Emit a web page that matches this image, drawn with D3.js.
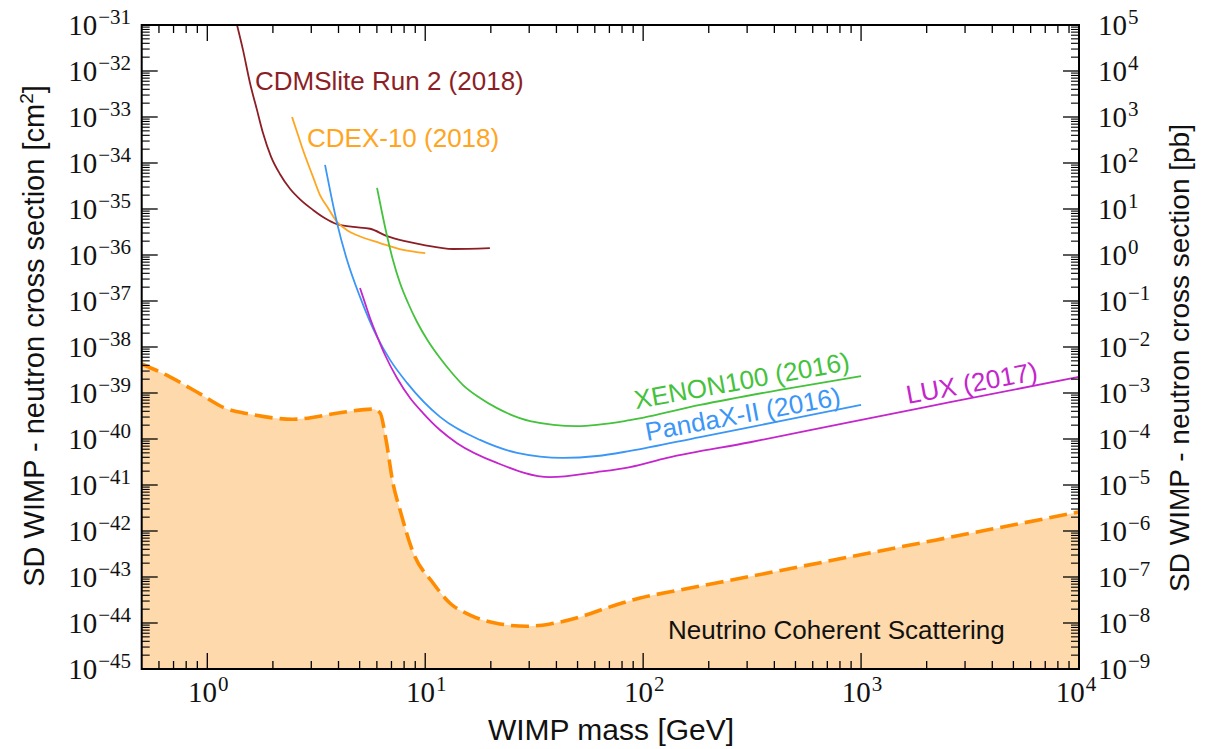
<!DOCTYPE html>
<html>
<head>
<meta charset="utf-8">
<script src="https://cdn.jsdelivr.net/npm/d3@7"></script>
<style>
  html, body { margin: 0; padding: 0; background: #fff; }
  svg { display: block; }
</style>
</head>
<body>
<svg id="chart" width="1216" height="749"></svg>
<script>
// ---------------- DATA (WIMP mass in GeV, cross section in cm^2) ----------------
const neutrinoMass = [0.5, 0.674, 0.926, 1.206, 1.57, 2.47, 4.06, 5.70, 6.20, 6.61, 7.11, 7.66, 8.79, 10.86, 13.0, 16.06, 22.0, 29.3, 37.4, 51.3, 68.3, 96.8, 147.6, 225.3, 525, 1222, 2846, 10000];
const neutrinoSigma = [4.27e-39, 2.24e-39, 9.55e-40, 4.68e-40, 3.47e-40, 2.69e-40, 3.72e-40, 4.47e-40, 3.72e-40, 9.55e-41, 1.10e-41, 2.88e-42, 3.47e-43, 7.41e-44, 2.69e-44, 1.48e-44, 9.55e-45, 8.51e-45, 9.55e-45, 1.35e-44, 2.14e-44, 3.49e-44, 5.21e-44, 7.67e-44, 1.68e-43, 3.69e-43, 8.07e-43, 2.59e-42];

const cdmsMass = [1.369, 1.458, 1.570, 1.691, 1.801, 1.960, 2.157, 2.396, 2.664, 3.055, 3.469, 3.937, 4.664, 5.58, 6.68, 8.08, 9.77, 13.4, 19.8];
const cdmsSigma = [1e-31, 2.88e-32, 5.5e-33, 1.41e-33, 4.47e-34, 1.38e-34, 5.7e-35, 2.75e-35, 1.62e-35, 9.55e-36, 6.3e-36, 4.68e-36, 4.07e-36, 3.72e-36, 2.57e-36, 2.0e-36, 1.66e-36, 1.35e-36, 1.41e-36];

const cdexMass = [2.448, 2.608, 2.749, 3.055, 3.290, 3.580, 3.937, 4.377, 4.864, 6.20, 7.91, 10.0];
const cdexSigma = [1e-33, 4.07e-34, 1.91e-34, 5.0e-35, 2.0e-35, 1.05e-35, 5.25e-36, 3.47e-36, 2.69e-36, 1.82e-36, 1.29e-36, 1.10e-36];

const pandaMass = [3.469, 3.696, 3.937, 4.377, 5.02, 6.01, 6.90, 8.25, 11.69, 17.84, 26.4, 42.9, 61.4, 87.1, 182.4, 425, 1000];
const pandaSigma = [9.1e-35, 2.0e-35, 5.0e-36, 7.76e-37, 1.23e-37, 1.66e-38, 5.25e-39, 1.66e-39, 3.02e-40, 9.55e-41, 5.0e-41, 3.89e-41, 4.27e-41, 5.5e-41, 1.10e-40, 2.45e-40, 5.5e-40];

const xenonMass = [6.01, 6.34, 6.68, 7.11, 7.66, 8.34, 9.17, 10.30, 11.69, 13.27, 14.91, 17.84, 21.36, 30.3, 49.7, 87.1, 182.4, 425, 1000];
const xenonSigma = [2.88e-35, 8.18e-36, 2.59e-36, 7.78e-37, 2.46e-37, 9.05e-38, 3.49e-38, 1.35e-38, 5.75e-39, 2.72e-39, 1.49e-39, 7.78e-40, 4.68e-40, 2.46e-40, 1.91e-40, 2.57e-40, 5.5e-40, 1.17e-39, 2.34e-39];

const luxMass = [5.02, 5.29, 5.58, 6.01, 6.54, 7.42, 8.52, 9.77, 11.69, 14.0, 21.36, 37.4, 61.4, 87.1, 128.7, 309.5, 890, 2561, 10000];
const luxSigma = [1.91e-37, 9.1e-38, 4.27e-38, 1.73e-38, 6.70e-39, 2.12e-39, 7.78e-40, 3.67e-40, 1.57e-40, 8.13e-41, 3.02e-41, 1.48e-41, 1.91e-41, 2.45e-41, 3.89e-41, 8.5e-41, 2.34e-40, 6.3e-40, 2.24e-39];

const xTickExps = [0, 1, 2, 3, 4];
const yLeftTickExps = [-31, -32, -33, -34, -35, -36, -37, -38, -39, -40, -41, -42, -43, -44, -45];
const yRightTickExps = [5, 4, 3, 2, 1, 0, -1, -2, -3, -4, -5, -6, -7, -8, -9];

const curveLabels = ["CDMSlite Run 2 (2018)", "CDEX-10 (2018)", "XENON100 (2016)", "PandaX-II (2016)", "LUX (2017)"];
const floorLabel = "Neutrino Coherent Scattering";
const xTitle = "WIMP mass [GeV]";
const yLeftTitle = "SD WIMP - neutron cross section [cm";
const yRightTitle = "SD WIMP - neutron cross section [pb]";

// ---------------- LAYOUT ----------------
const L = 141.7, R = 1079, T = 25, B = 669;
const svg = d3.select("#chart");
const x = d3.scaleLog().domain([0.5, 1e4]).range([L, R]);
const y = d3.scaleLog().domain([1e-45, 1e-31]).range([B, T]);
const yR = d3.scaleLog().domain([1e-9, 1e5]).range([B, T]);

const sans = "'Liberation Sans', Arial, Helvetica, sans-serif";
const serif = "'Liberation Serif', 'Times New Roman', serif";

svg.append("defs").append("clipPath").attr("id", "plotclip")
  .append("rect").attr("x", L).attr("y", T).attr("width", R - L).attr("height", B - T);

const plot = svg.append("g").attr("clip-path", "url(#plotclip)");

const zip = (ms, ss) => ms.map((m, i) => ({ m, s: ss[i] }));
const curve = d3.curveMonotoneX;

// neutrino floor
const nData = zip(neutrinoMass, neutrinoSigma);
plot.append("path").datum(nData)
  .attr("d", d3.area().x(d => x(d.m)).y0(B).y1(d => y(d.s)).curve(curve))
  .attr("fill", "#fdd9ab");
plot.append("path").datum(nData)
  .attr("d", d3.line().x(d => x(d.m)).y(d => y(d.s)).curve(curve))
  .attr("fill", "none").attr("stroke", "#ff8c00").attr("stroke-width", 3.6)
  .attr("stroke-dasharray", "18,7");

const series = [
  { ms: cdmsMass, ss: cdmsSigma, color: "#8c1f26" },
  { ms: cdexMass, ss: cdexSigma, color: "#ffa51f" },
  { ms: xenonMass, ss: xenonSigma, color: "#44c23c" },
  { ms: pandaMass, ss: pandaSigma, color: "#3a96f7" },
  { ms: luxMass, ss: luxSigma, color: "#c425cc" }
];
series.forEach(sr => {
  plot.append("path").datum(zip(sr.ms, sr.ss))
    .attr("d", d3.line().x(d => x(d.m)).y(d => y(d.s)).curve(curve))
    .attr("fill", "none").attr("stroke", sr.color).attr("stroke-width", 1.8);
});

// curve labels
const labelPos = [
  { x: 255, y: 90, rot: 0, color: "#8c1f26" },
  { x: 307, y: 147, rot: 0, color: "#ffa51f" },
  { x: 636, y: 409, rot: -10.3, color: "#44c23c" },
  { x: 647, y: 441, rot: -10.5, color: "#3a96f7" },
  { x: 908, y: 404, rot: -10.5, color: "#c425cc" }
];
curveLabels.forEach((t, i) => {
  const p = labelPos[i];
  svg.append("text").attr("transform", `translate(${p.x},${p.y}) rotate(${p.rot})`)
    .attr("font-family", sans).attr("font-size", 26).attr("fill", p.color).text(t);
});
svg.append("text").attr("x", 668).attr("y", 639)
  .attr("font-family", sans).attr("font-size", 26).attr("fill", "#111").text(floorLabel);

// ---------------- AXES / TICKS ----------------
const axG = svg.append("g").attr("stroke", "#000");
const majorLen = 16, minorLen = 8;
const xMinor = [];
for (let e = -1; e <= 3; e++) for (let k = 2; k <= 9; k++) {
  const v = k * Math.pow(10, e);
  if (v > 0.5 && v < 1e4) xMinor.push(v);
}
xMinor.forEach(v => {
  axG.append("line").attr("x1", x(v)).attr("x2", x(v)).attr("y1", B).attr("y2", B - minorLen).attr("stroke-width", 1.3);
  axG.append("line").attr("x1", x(v)).attr("x2", x(v)).attr("y1", T).attr("y2", T + minorLen).attr("stroke-width", 1.3);
});
xTickExps.forEach(e => {
  const v = Math.pow(10, e);
  axG.append("line").attr("x1", x(v)).attr("x2", x(v)).attr("y1", B).attr("y2", B - majorLen).attr("stroke-width", 1.3);
  axG.append("line").attr("x1", x(v)).attr("x2", x(v)).attr("y1", T).attr("y2", T + majorLen).attr("stroke-width", 1.3);
});
const yMinor = [];
for (let e = -45; e <= -32; e++) for (let k = 2; k <= 9; k++) yMinor.push(k * Math.pow(10, e));
yMinor.forEach(v => {
  axG.append("line").attr("x1", L).attr("x2", L + minorLen).attr("y1", y(v)).attr("y2", y(v)).attr("stroke-width", 1.1);
  axG.append("line").attr("x1", R).attr("x2", R - minorLen).attr("y1", y(v)).attr("y2", y(v)).attr("stroke-width", 1.1);
});
yLeftTickExps.forEach(e => {
  const v = Math.pow(10, e);
  axG.append("line").attr("x1", L).attr("x2", L + majorLen).attr("y1", y(v)).attr("y2", y(v)).attr("stroke-width", 1.3);
  axG.append("line").attr("x1", R).attr("x2", R - majorLen).attr("y1", y(v)).attr("y2", y(v)).attr("stroke-width", 1.3);
});
svg.append("rect").attr("x", L).attr("y", T).attr("width", R - L).attr("height", B - T)
  .attr("fill", "none").attr("stroke", "#000").attr("stroke-width", 2);

// tick labels
function powLabel(g, px, py, exp, anchor) {
  const t = g.append("text").attr("x", px).attr("y", py).attr("text-anchor", anchor)
    .attr("font-family", serif).attr("font-size", 29).attr("fill", "#111");
  t.append("tspan").text("10");
  t.append("tspan").attr("dy", -11).attr("dx", 1).attr("font-size", 21).text(String(exp).replace("-", "\u2212"));
}
xTickExps.forEach(e => powLabel(svg, x(Math.pow(10, e)) + (e === 4 ? -3 : 1), 702, e, "middle"));
yLeftTickExps.forEach(e => powLabel(svg, 131, y(Math.pow(10, e)) + 10, e, "end"));
yRightTickExps.forEach(e => powLabel(svg, 1098, yR(Math.pow(10, e)) + 10, e, "start"));

// axis titles
svg.append("text").attr("x", 611).attr("y", 740).attr("text-anchor", "middle")
  .attr("font-family", sans).attr("font-size", 30).attr("fill", "#111").text(xTitle);
const lt = svg.append("text").attr("transform", "translate(44,336) rotate(-90)").attr("text-anchor", "middle")
  .attr("font-family", sans).attr("font-size", 29).attr("fill", "#111");
lt.append("tspan").text(yLeftTitle);
lt.append("tspan").attr("dy", -11).attr("font-size", 19).text("2");
lt.append("tspan").attr("dy", 11).text("]");
svg.append("text").attr("transform", "translate(1189,358) rotate(-90)").attr("text-anchor", "middle")
  .attr("font-family", sans).attr("font-size", 28).attr("fill", "#111").text(yRightTitle);
</script>
</body>
</html>
